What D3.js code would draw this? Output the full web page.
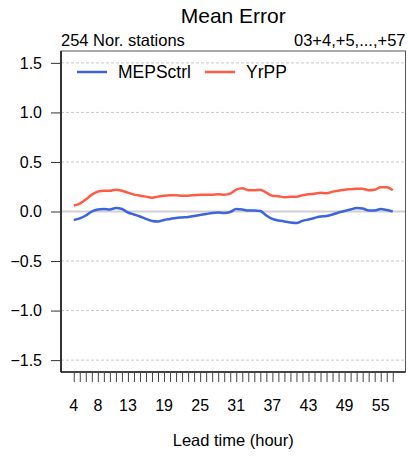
<!DOCTYPE html>
<html>
<head>
<meta charset="utf-8">
<script src="https://cdn.jsdelivr.net/npm/d3@7"></script>
<style>
body { margin: 0; background: #fff; }
text { font-family: "Liberation Sans", Arial, sans-serif; fill: #000; }
</style>
</head>
<body>
<script>
var W = 408, H = 459;

// lead times (hours)
var hours = d3.range(4, 58);
var xTickLabels = [4, 8, 13, 19, 25, 31, 37, 43, 49, 55];
var yTicks = [-1.5, -1.0, -0.5, 0.0, 0.5, 1.0, 1.5];

var mepsctrl = [-0.085, -0.07, -0.04, 0.00, 0.02, 0.025, 0.02, 0.035, 0.025, -0.01,
  -0.03, -0.05, -0.075, -0.095, -0.10, -0.085, -0.075, -0.065, -0.06, -0.055,
  -0.045, -0.035, -0.025, -0.015, -0.01, -0.015, -0.005, 0.025, 0.02, 0.01,
  0.01, 0.005, -0.04, -0.075, -0.09, -0.10, -0.11, -0.115, -0.095, -0.08,
  -0.065, -0.05, -0.045, -0.03, -0.01, 0.005, 0.02, 0.035, 0.03, 0.01,
  0.01, 0.025, 0.015, 0.0];
var yrpp = [0.06, 0.08, 0.12, 0.17, 0.20, 0.21, 0.21, 0.22, 0.21, 0.19,
  0.17, 0.16, 0.15, 0.14, 0.15, 0.16, 0.165, 0.165, 0.16, 0.16,
  0.165, 0.17, 0.17, 0.17, 0.175, 0.17, 0.18, 0.22, 0.235, 0.215,
  0.215, 0.22, 0.19, 0.16, 0.155, 0.145, 0.15, 0.15, 0.165, 0.175,
  0.18, 0.19, 0.185, 0.20, 0.21, 0.22, 0.225, 0.23, 0.23, 0.215,
  0.22, 0.245, 0.245, 0.215];

var series = [
  {name: "MEPSctrl", values: mepsctrl, color: "#3d63dd"},
  {name: "YrPP", values: yrpp, color: "#ff5c45"}
];

var box = {left: 61, right: 405.5, top: 51, bottom: 372};

// R-style 4% padding
var x = d3.scaleLinear().domain([4 - 53 * 0.04, 57 + 53 * 0.04]).range([box.left, box.right]);
var y = d3.scaleLinear().domain([-1.5 - 3 * 0.04, 1.5 + 3 * 0.04]).range([box.bottom, box.top]);

var svg = d3.select("body").append("svg")
  .attr("width", W)
  .attr("height", H);

// grid
svg.append("g").selectAll("line")
  .data(yTicks.filter(function(d) { return d !== 0; }))
  .enter().append("line")
  .attr("x1", box.left).attr("x2", box.right)
  .attr("y1", function(d) { return y(d); })
  .attr("y2", function(d) { return y(d); })
  .attr("stroke", "#c8c8c8")
  .attr("stroke-width", 1)
  .attr("stroke-dasharray", "3,2");

svg.append("line")
  .attr("x1", box.left).attr("x2", box.right)
  .attr("y1", y(0)).attr("y2", y(0))
  .attr("stroke", "#cfcfcf")
  .attr("stroke-width", 2);

// lines
var line = d3.line()
  .x(function(d, i) { return x(hours[i]); })
  .y(function(d) { return y(d); })
  .curve(d3.curveMonotoneX);

svg.selectAll("path.series")
  .data(series)
  .enter().append("path")
  .attr("class", "series")
  .attr("d", function(d) { return line(d.values); })
  .attr("fill", "none")
  .attr("stroke", function(d) { return d.color; })
  .attr("stroke-width", 2.5)
  .attr("stroke-linejoin", "round");

// box
svg.append("rect")
  .attr("x", box.left).attr("y", box.top)
  .attr("width", box.right - box.left).attr("height", box.bottom - box.top)
  .attr("fill", "none")
  .attr("stroke", "#555")
  .attr("stroke-width", 1);

// left axis
var yAxis = d3.axisLeft(y)
  .tickValues(yTicks)
  .tickSize(10)
  .tickPadding(9)
  .tickFormat(function(d) { return d3.format(".1f")(d).replace("-", "\u2212"); });

var gy = svg.append("g")
  .attr("transform", "translate(" + box.left + ",0)")
  .call(yAxis);
gy.select(".domain").attr("stroke", "#333").attr("stroke-width", 2).attr("d", "M0," + box.top + "V" + box.bottom);
gy.selectAll(".tick line").attr("stroke", "#333");
gy.selectAll(".tick text")
  .style("font-size", "16px")
  .style("font-family", "Liberation Sans, Arial, sans-serif");

// bottom axis
var xAxis = d3.axisBottom(x)
  .tickValues(hours)
  .tickSize(10)
  .tickFormat("");
var gx = svg.append("g")
  .attr("transform", "translate(0," + box.bottom + ")")
  .call(xAxis);
gx.select(".domain").attr("stroke", "#222").attr("stroke-width", 1.5).attr("d", "M" + box.left + ",0H" + box.right);
gx.selectAll(".tick line").attr("stroke", "#444");

svg.append("g").selectAll("text")
  .data(xTickLabels)
  .enter().append("text")
  .attr("x", function(d) { return x(d); })
  .attr("y", 411)
  .attr("text-anchor", "middle")
  .style("font-size", "16px")
  .text(function(d) { return d; });

// titles
var cx = (box.left + box.right) / 2;
svg.append("text")
  .attr("x", cx).attr("y", 23)
  .attr("text-anchor", "middle")
  .style("font-size", "21px")
  .text("Mean Error");

svg.append("text")
  .attr("x", box.left).attr("y", 46)
  .style("font-size", "16.5px")
  .text("254 Nor. stations");

svg.append("text")
  .attr("x", box.right).attr("y", 46)
  .attr("text-anchor", "end")
  .style("font-size", "16.5px")
  .text("03+4,+5,...,+57");

svg.append("text")
  .attr("x", cx).attr("y", 446)
  .attr("text-anchor", "middle")
  .style("font-size", "16.5px")
  .text("Lead time (hour)");

// legend
var legX = [77, 205];
var leg = svg.append("g").selectAll("g")
  .data(series)
  .enter().append("g")
  .attr("transform", function(d, i) { return "translate(" + legX[i] + ",72)"; });
leg.append("line")
  .attr("x1", 0).attr("x2", 30)
  .attr("stroke", function(d) { return d.color; })
  .attr("stroke-width", 2.5);
leg.append("text")
  .attr("x", 41).attr("y", 6)
  .style("font-size", "17.5px")
  .text(function(d) { return d.name; });
</script>
</body>
</html>
